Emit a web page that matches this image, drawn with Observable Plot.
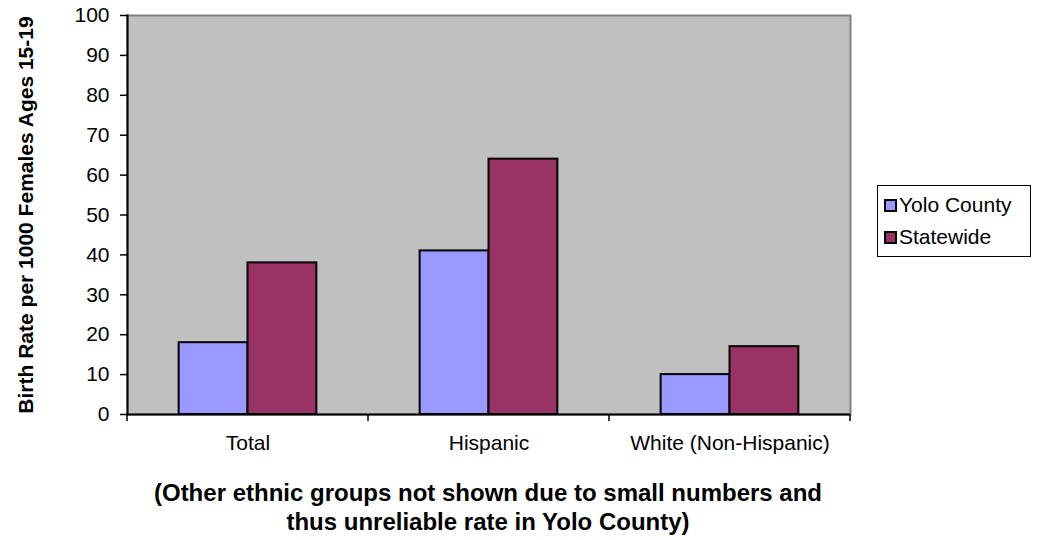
<!DOCTYPE html>
<html>
<head>
<meta charset="utf-8">
<script src="https://cdn.jsdelivr.net/npm/d3@7"></script>
<script src="https://cdn.jsdelivr.net/npm/@observablehq/plot@0.6"></script>
<style>
  body { margin: 0; background: #fff; font-family: "Liberation Sans", Arial, sans-serif; }
  #wrap { position: relative; width: 1037px; height: 540px; overflow: hidden; }
  #chart { position: absolute; left: 0; top: 0; }
  #legend { position: absolute; left: 877px; top: 185px; width: 154px; height: 72px; box-sizing: border-box; border: 1px solid #000; background: #fff; }
  .item { position: absolute; left: 6px; height: 21px; font-size: 21px; line-height: 21px; white-space: nowrap; color: #000; }
  .sw { position: absolute; left: 0; top: 5px; width: 13px; height: 13px; box-sizing: border-box; border: 2px solid #000; }
  .lab { position: absolute; left: 15px; top: 0; }
  #caption { position: absolute; left: 126px; top: 478px; width: 724px; text-align: center; font-weight: bold; font-size: 24px; line-height: 29px; color: #000; }
</style>
</head>
<body>
<div id="wrap">
  <div id="chart"></div>
  <div id="legend"></div>
  <div id="caption"></div>
</div>
<script>
// ---- data ----
const categories = ["Total", "Hispanic", "White (Non-Hispanic)"];
const series = ["Yolo County", "Statewide"];
const yoloCounty = [18, 41, 10];
const statewide = [38, 64, 17];
const yTicks = [0, 10, 20, 30, 40, 50, 60, 70, 80, 90, 100];
const seriesColors = ["#9999FF", "#993366"];
const yLabel = "Birth Rate per 1000 Females Ages 15-19";
const captionLines = [
  "(Other ethnic groups not shown due to small numbers and",
  "thus unreliable rate in Yolo County)"
];

const data = categories.flatMap((c, i) => [
  {category: c, series: series[0], value: yoloCounty[i]},
  {category: c, series: series[1], value: statewide[i]}
]);

const chart = Plot.plot({
  width: 1037,
  height: 465,
  marginLeft: 126,
  marginRight: 187,
  marginTop: 15,
  marginBottom: 51,
  style: {fontFamily: "'Liberation Sans', Arial, sans-serif", fontSize: "21px", color: "#000", background: "transparent", overflow: "visible"},
  fx: {domain: categories, paddingInner: 0, paddingOuter: 0, axis: null, label: null},
  x: {domain: series, paddingInner: 0, paddingOuter: 0.75, axis: null, round: false},
  y: {domain: [0, 100], axis: null},
  color: {domain: series, range: seriesColors},
  marks: [
    Plot.frame({fill: "#C0C0C0", stroke: "#808080", strokeWidth: 2, facet: "super"}),
    Plot.barY(data, {fx: "category", x: "series", y: "value", fill: "series", stroke: "#000", strokeWidth: 2}),
    Plot.ruleY([0], {stroke: "#000", strokeWidth: 2}),
    Plot.frame({anchor: "left", stroke: "#000", strokeWidth: 2, facet: "super"}),
    Plot.axisY({ticks: yTicks, tickSize: 7, tickPadding: 11, fontSize: 21, label: null, strokeWidth: 1.5}),
    Plot.axisFx({anchor: "bottom", tickSize: 0, tickPadding: 21, fontSize: 21, label: null}),
    Plot.text([yLabel], {text: d => d, frameAnchor: "left", textAnchor: "middle", rotate: -90, dx: -101, fontWeight: "bold", fontSize: 21, facet: "super"}),
    Plot.frame({facet: "super", render: (index, scales, values, dims) => {
      const fx = scales.fx, bw = fx.bandwidth();
      const edges = categories.map(c => fx(c)).concat([fx(categories[categories.length - 1]) + bw]);
      const y0 = scales.y(0);
      const g = d3.create("svg:g");
      g.selectAll("line").data(edges).join("line")
        .attr("x1", d => d).attr("x2", d => d)
        .attr("y1", y0).attr("y2", y0 + 7)
        .attr("stroke", "#000").attr("stroke-width", 1.5);
      return g.node();
    }})
  ]
});
document.getElementById("chart").appendChild(chart);

// legend
const legend = document.getElementById("legend");
series.forEach((s, i) => {
  const item = document.createElement("div");
  item.className = "item";
  item.style.top = (8 + i * 32) + "px";
  const sw = document.createElement("span");
  sw.className = "sw";
  sw.style.background = seriesColors[i];
  const lab = document.createElement("span");
  lab.className = "lab";
  lab.textContent = s;
  item.appendChild(sw);
  item.appendChild(lab);
  legend.appendChild(item);
});

// caption
const cap = document.getElementById("caption");
captionLines.forEach(t => {
  const d = document.createElement("div");
  d.textContent = t;
  cap.appendChild(d);
});
</script>
</body>
</html>
